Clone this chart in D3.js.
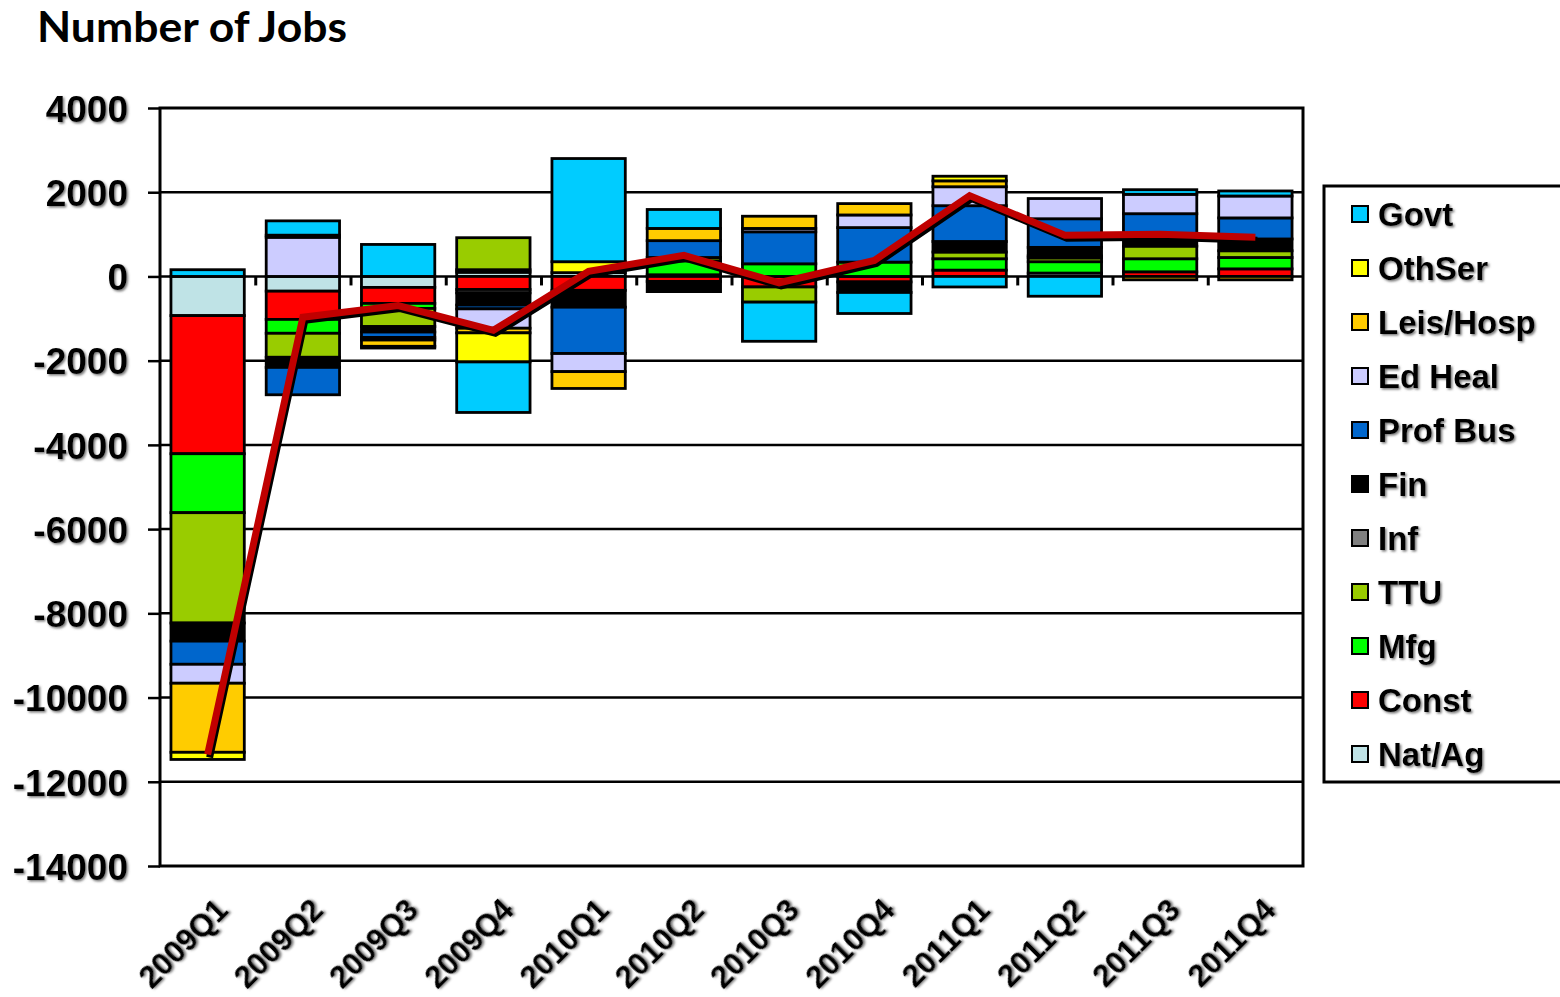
<!DOCTYPE html>
<html>
<head>
<meta charset="utf-8">
<title>Number of Jobs</title>
<script src="https://d3js.org/d3.v7.min.js"></script>
<style>
  body { margin: 0; background: #fff; }
  svg { display: block; }
  .lbl { font-family: "Liberation Sans", Arial, sans-serif; font-weight: bold; fill: #000; }
</style>
</head>
<body>
<svg></svg>
<script>
    // chart data
    var quarters = ["2009Q1", "2009Q2", "2009Q3", "2009Q4", "2010Q1", "2010Q2",
                    "2010Q3", "2010Q4", "2011Q1", "2011Q2", "2011Q3", "2011Q4"];

    // stacking order, from the zero line outwards
    var sectors = ["Nat/Ag", "Const", "Mfg", "TTU", "Inf", "Fin", "Prof Bus", "Ed Heal", "Leis/Hosp", "OthSer", "Govt"];

    var natAg    = [-930,  -350, -260,   100,    90,   40,    0,    0,    0,   80,    0,    0];
    var constr   = [-3280, -670, -380,  -310,  -330, -120, -250, -130,  150,    0,  110,  180];
    var mfg      = [-1400, -330, -120,    60,     0,  330,  300,  340,  270,  270,  310,  270];
    var ttu      = [-2620, -570, -430,   760,     0,   80, -360,    0,  160,   90,  300,  160];
    var inf      = [0,        0,    0,   -80,     0,    0,    0,    0,    0,   50,    0,    0];
    var fin      = [-430,  -240, -130,  -290,  -400, -240,    0, -250,  250,  200,  170,  280];
    var profBus  = [-550,  -650, -130,   -90, -1100,  400,  760,  820,  850,  680,  600,  500];
    var edHeal   = [-450,   930,  -60,  -460,  -430,    0,   80,  300,  450,  480,  460,  520];
    var leisHosp = [-1640,   50, -150,  -110,  -400,  290,  290,  270,  140,    0,  -80,  -80];
    var othSer   = [-170,     0,  -40,  -690,   260,    0,    0,    0,  110,    0,    0,    0];
    var govt     = [160,    340,  760, -1200,  2450,  450, -930, -500, -250, -470,  110,  120];

    // net change line
    var net = [-11350, -970, -690, -1280, 120, 500, -150, 380, 1920, 980, 1000, 930];

    var yTicks = [4000, 2000, 0, -2000, -4000, -6000, -8000, -10000, -12000, -14000];

    var colors = ["#bfe3e6", "#ff0000", "#00ff00", "#99cc00", "#808080", "#000000",
                  "#0066cc", "#ccccff", "#ffcc00", "#ffff00", "#00ccff"];

    var seriesValues = [natAg, constr, mfg, ttu, inf, fin, profBus, edHeal, leisHosp, othSer, govt];

    // rows for d3.stack
    var rows = quarters.map(function (q, i) {
        var r = { quarter: q };
        sectors.forEach(function (s, k) { r[s] = seriesValues[k][i]; });
        return r;
    });

    var width = 1560, height = 997;
    var plotL = 160, plotR = 1303, plotT = 108, plotB = 866;

    var svg = d3.select("svg").attr("width", width).attr("height", height);

    var defs = svg.append("defs");
    defs.append("filter").attr("id", "shadow")
        .attr("x", "-10%").attr("y", "-10%").attr("width", "130%").attr("height", "130%")
        .append("feDropShadow")
        .attr("dx", 1.5).attr("dy", 1.5).attr("stdDeviation", 0.9)
        .attr("flood-color", "#666").attr("flood-opacity", 0.9);

    var x = d3.scaleBand().domain(quarters).range([plotL, plotR])
        .paddingInner(0.23).paddingOuter(0.115);
    var y = d3.scaleLinear().domain([-14000, 4000]).range([plotB, plotT]);
    var color = d3.scaleOrdinal().domain(sectors).range(colors);

    // title
    svg.append("text")
        .attr("x", 37).attr("y", 42)
        .style("font-family", "Lato, 'Open Sans', sans-serif")
        .style("font-weight", "bold")
        .style("font-size", "42px")
        .attr("textLength", 310)
        .attr("lengthAdjust", "spacingAndGlyphs")
        .text("Number of Jobs");

    // grid lines
    svg.append("g").selectAll("line")
        .data(yTicks.filter(function (d) { return d > -14000 && d < 4000; }))
        .enter().append("line")
        .attr("x1", plotL).attr("x2", plotR)
        .attr("y1", function (d) { return y(d); })
        .attr("y2", function (d) { return y(d); })
        .attr("stroke", "#000").attr("stroke-width", 2.5);

    // y axis
    var yAxis = svg.append("g")
        .attr("transform", "translate(" + plotL + ",0)")
        .call(d3.axisLeft(y).tickValues(yTicks).tickSize(12).tickPadding(20)
            .tickFormat(function (d) { return String(d); }));
    yAxis.select(".domain").remove();
    yAxis.selectAll(".tick line").attr("stroke", "#000").attr("stroke-width", 2.5);
    yAxis.selectAll(".tick text")
        .attr("class", "lbl")
        .attr("dy", "0.36em")
        .style("font-size", "37px")
        .attr("filter", "url(#shadow)");

    // small ticks on the zero line between quarters
    var idx = d3.scaleLinear().domain([0, quarters.length]).range([plotL, plotR]);
    var zAxis = svg.append("g")
        .attr("transform", "translate(0," + y(0) + ")")
        .call(d3.axisBottom(idx).tickValues(d3.range(1, quarters.length)).tickSize(9).tickFormat(""));
    zAxis.select(".domain").remove();
    zAxis.selectAll(".tick line").attr("stroke", "#000").attr("stroke-width", 3);

    // stacked bars
    var stack = d3.stack().keys(sectors).offset(d3.stackOffsetDiverging);
    var layers = stack(rows);

    svg.append("g").selectAll("g")
        .data(layers)
        .enter().append("g")
        .attr("fill", function (d) { return color(d.key); })
        .selectAll("rect")
        .data(function (d) { return d.filter(function (p) { return p[1] - p[0] !== 0; }); })
        .enter().append("rect")
        .attr("x", function (d) { return x(d.data.quarter); })
        .attr("width", x.bandwidth())
        .attr("y", function (d) { return y(d[1]); })
        .attr("height", function (d) { return y(d[0]) - y(d[1]); })
        .attr("stroke", "#000").attr("stroke-width", 2.8);

    // plot frame
    svg.append("rect")
        .attr("x", plotL).attr("y", plotT)
        .attr("width", plotR - plotL).attr("height", plotB - plotT)
        .attr("fill", "none").attr("stroke", "#000").attr("stroke-width", 3);

    // net line with dark shadow
    var line = d3.line()
        .x(function (d, i) { return x(quarters[i]) + x.bandwidth() / 2; })
        .y(function (d) { return y(d); });

    svg.append("path").datum(net)
        .attr("d", line)
        .attr("transform", "translate(2,3)")
        .attr("fill", "none").attr("stroke", "#000").attr("stroke-width", 7);
    svg.append("path").datum(net)
        .attr("d", line)
        .attr("fill", "none").attr("stroke", "#c00000").attr("stroke-width", 7);

    // x labels
    var xAxis = svg.append("g")
        .attr("transform", "translate(0," + plotB + ")")
        .call(d3.axisBottom(x).tickSize(0).tickPadding(0));
    xAxis.select(".domain").remove();
    xAxis.selectAll(".tick text")
        .attr("class", "lbl")
        .style("font-size", "31px")
        .attr("text-anchor", "end")
        .attr("dy", 0)
        .attr("transform", "translate(22,46) rotate(-45)")
        .attr("filter", "url(#shadow)");

    // legend
    var legend = svg.append("g");
    legend.append("rect")
        .attr("x", 1324).attr("y", 186)
        .attr("width", 250).attr("height", 596)
        .attr("fill", "#fff").attr("stroke", "#000").attr("stroke-width", 3);

    var items = legend.selectAll("g.item")
        .data(sectors.slice().reverse())
        .enter().append("g").attr("class", "item")
        .attr("transform", function (d, i) { return "translate(1352," + (214 + i * 54) + ")"; });
    items.append("rect")
        .attr("x", 0).attr("y", -8).attr("width", 16).attr("height", 16)
        .attr("fill", function (d) { return color(d); })
        .attr("stroke", "#000").attr("stroke-width", 2);
    items.append("text")
        .attr("class", "lbl")
        .attr("x", 26).attr("y", 12)
        .style("font-size", "33px")
        .attr("filter", "url(#shadow)")
        .text(function (d) { return d; });
</script>
</body>
</html>
